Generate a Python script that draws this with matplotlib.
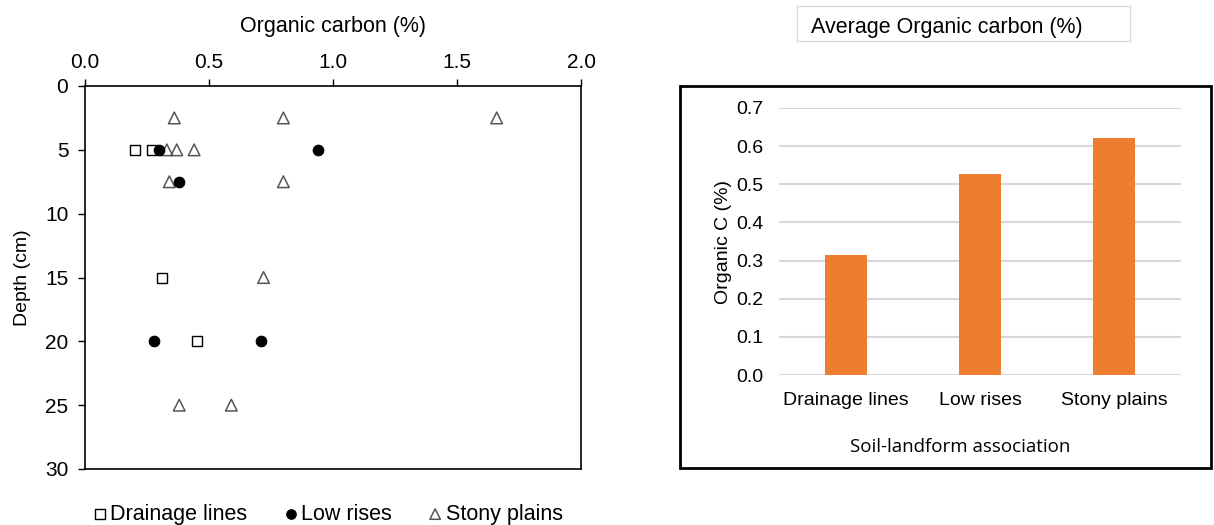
import matplotlib
matplotlib.use("Agg")
import matplotlib.pyplot as plt
from matplotlib.patches import Rectangle

plt.rcParams['font.family'] = ['Liberation Sans', 'DejaVu Sans']

# Organic carbon (%) by depth (cm) for each soil-landform association
drainage_oc = [0.20, 0.27, 0.31, 0.45]
drainage_depth = [5, 5, 15, 20]

low_oc = [0.30, 0.94, 0.38, 0.28, 0.71]
low_depth = [5, 5, 7.5, 20, 20]

stony_oc = [0.36, 0.80, 1.66, 0.33, 0.37, 0.44, 0.34, 0.80, 0.72, 0.38, 0.59]
stony_depth = [2.5, 2.5, 2.5, 5, 5, 5, 7.5, 7.5, 15, 25, 25]

# Average organic carbon per association
categories = ["Drainage lines", "Low rises", "Stony plains"]
avg_oc = [0.315, 0.528, 0.621]

W, H = 1214, 525
fig = plt.figure(figsize=(W / 100, H / 100), dpi=100)

def box(x0, y0, x1, y1):
    return [x0 / W, 1 - y1 / H, (x1 - x0) / W, (y1 - y0) / H]

# ---- depth profile ----
ax = fig.add_axes(box(85, 86, 581, 469))
ax.scatter(drainage_oc, drainage_depth, marker='s', s=55, facecolors='white',
           edgecolors='black', linewidths=1.0, label='Drainage lines', zorder=3)
ax.scatter(low_oc, low_depth, marker='o', s=58, facecolors='black',
           edgecolors='black', linewidths=0.8, label='Low rises', zorder=4)
ax.scatter(stony_oc, stony_depth, marker='^', s=70, facecolors='none',
           edgecolors='#555555', linewidths=1.1, label='Stony plains', zorder=3)
ax.set_xlim(0, 2.0)
ax.set_ylim(30, 0)
ax.xaxis.tick_top()
ax.xaxis.set_label_position('top')
ax.set_xticks([0, 0.5, 1.0, 1.5, 2.0])
ax.set_xticklabels(['0.0', '0.5', '1.0', '1.5', '2.0'])
ax.set_yticks([0, 5, 10, 15, 20, 25, 30])
ax.tick_params(axis='both', labelsize=15, width=1.0, direction='out',
               length=5)
ax.tick_params(axis='x', pad=5)
ax.tick_params(axis='y', pad=7)
ax.set_xlabel('Organic carbon (%)', fontsize=15.5, labelpad=15)
ax.set_ylabel('Depth (cm)', fontsize=14, labelpad=10)
for s in ax.spines.values():
    s.set_linewidth(1.2)
leg = ax.legend(loc='upper center', bbox_to_anchor=(0.49, -0.04), ncol=3,
                frameon=False, fontsize=15.5, handletextpad=0.2,
                columnspacing=1.7, markerscale=0.9, handlelength=0.6)

# ---- average bar chart ----
frame = Rectangle((680 / W, 1 - 468 / H), (1211 - 680) / W, (468 - 86) / H,
                  transform=fig.transFigure, fill=False, edgecolor='black',
                  linewidth=2.0)
fig.patches.append(frame)

bx = fig.add_axes(box(779, 108, 1181, 375))
pos = range(len(categories))
bx.bar(pos, avg_oc, width=0.31, color='#ED7D31', zorder=3)
bx.set_xlim(-0.5, 2.5)
bx.set_ylim(0, 0.7)
yt = [0.0, 0.1, 0.2, 0.3, 0.4, 0.5, 0.6, 0.7]
bx.set_yticks(yt)
bx.set_yticklabels([f'{v:.1f}' for v in yt])
bx.set_xticks(list(pos))
bx.set_xticklabels(categories)
bx.yaxis.grid(True, color='#d9d9d9', linewidth=1.5, zorder=0)
bx.set_axisbelow(True)
for s in bx.spines.values():
    s.set_visible(False)
bx.tick_params(axis='y', length=0, labelsize=14, pad=11)
bx.tick_params(axis='x', length=0, labelsize=14, pad=12)
bx.set_ylabel('Organic C (%)', fontsize=14, labelpad=3)
bx.set_xlabel('Soil-landform association', fontsize=13.5,
              family=['Open Sans', 'DejaVu Sans'])
bx.xaxis.set_label_coords(0.45, -0.235)

# title box above the bar chart
tb = Rectangle((797 / W, 1 - 41 / H), (1130 - 797) / W, (41 - 6) / H,
               transform=fig.transFigure, fill=False, edgecolor='#d8d8d8',
               linewidth=1.0)
fig.patches.append(tb)
fig.text(811 / W, 1 - 28 / H, 'Average Organic carbon (%)', fontsize=15.5,
         va='center', ha='left')

fig.savefig('out.png', dpi=100)
